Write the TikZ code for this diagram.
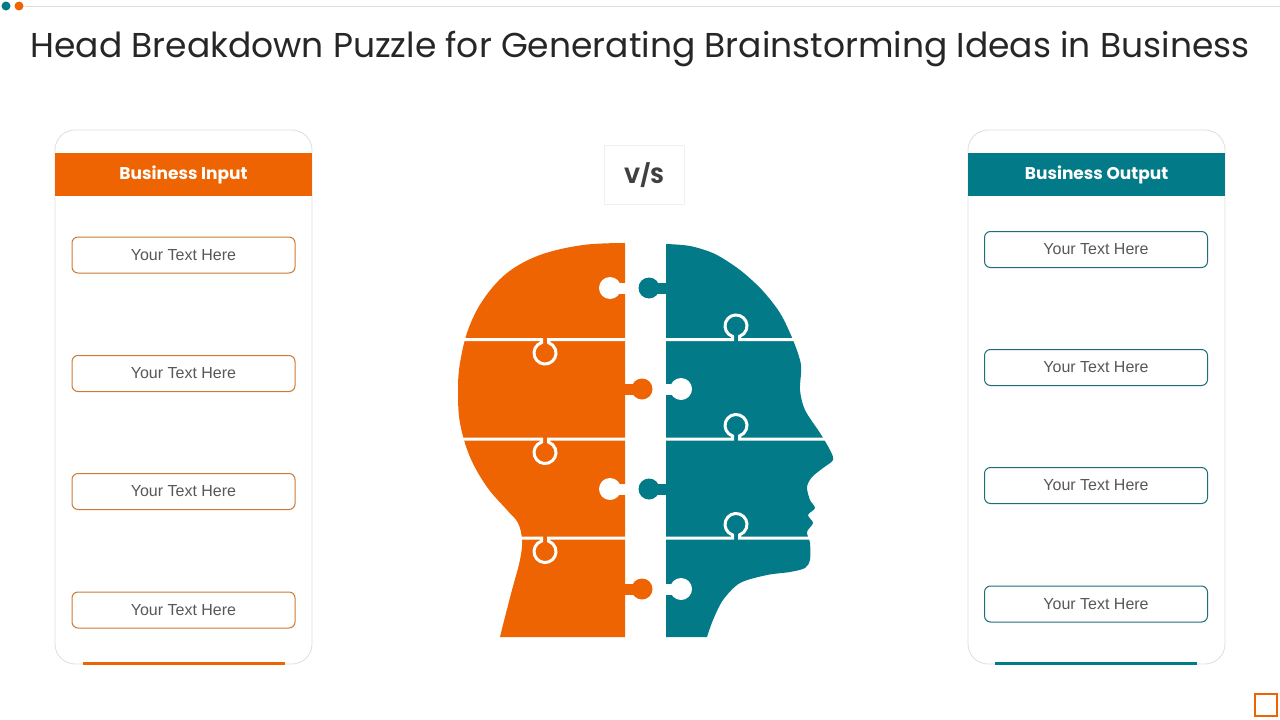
\documentclass[tikz,border=0pt]{standalone}
\usepackage{fontspec}
\setmainfont{Liberation Sans}
\newfontfamily\gothic{Poppins}
\definecolor{brandorange}{RGB}{238,99,2}
\definecolor{brandteal}{RGB}{2,122,135}
\definecolor{boxorange}{RGB}{204,122,52}
\definecolor{boxteal}{RGB}{30,110,120}
\definecolor{textgray}{RGB}{88,88,88}
\definecolor{panelgray}{RGB}{222,222,222}
\begin{document}
\begin{tikzpicture}[x=1pt,y=-1pt,
    textbox/.style={draw,line width=1pt,rounded corners=6pt,fill=white,
      minimum width=223pt,minimum height=36pt,inner sep=0pt,
      text=textgray,font=\fontsize{16}{18}\selectfont},
    header/.style={minimum width=257pt,minimum height=43pt,inner sep=0pt,
      text=white,font=\gothic\bfseries\fontsize{17}{20}\selectfont},
    panel/.style={draw=panelgray,line width=0.8pt,rounded corners=20pt,fill=white},
    gap/.style={draw=white,line width=3pt}]
  \useasboundingbox (0,0) rectangle (1280,720);
  % top rule and corner dots
  \draw[panelgray,line width=1pt] (25,6) -- (1280,6);
  \fill[brandteal] (6,6) circle[radius=4.5];
  \fill[brandorange] (19,6) circle[radius=4.5];
  \node[anchor=base,font=\gothic\fontsize{34.5}{40}\selectfont,text=black!85] (title) at (640,57)
    {Head Breakdown Puzzle for Generating Brainstorming Ideas in Business};
  % left panel
  \draw[panel] (55,130) rectangle (312,664);
  \node[header,fill=brandorange] (inhead) at (183.5,174.5) {Business Input};
  \foreach \i/\y in {1/255,2/373.5,3/491.5,4/610}
    \node[textbox,draw=boxorange] (in\i) at (183.5,\y) {Your Text Here};
  \fill[brandorange] (83,662) rectangle (285,665);
  % right panel
  \draw[panel] (968,130) rectangle (1225,664);
  \node[header,fill=brandteal] (outhead) at (1096.5,174.5) {Business Output};
  \foreach \i/\y in {1/249.5,2/367.5,3/485.5,4/604}
    \node[textbox,draw=boxteal] (out\i) at (1096,\y) {Your Text Here};
  \fill[brandteal] (995,662) rectangle (1197,665);
  % v/s label
  \node[draw=black!6,line width=1pt,minimum width=80pt,minimum height=59pt,
    font=\gothic\bfseries\fontsize{22}{26}\selectfont,text=black!75] (vs) at (644,175) {V/S};
  % head, orange half
  \fill[brandorange] (625,637) -- plot[smooth,tension=0.6] coordinates {(625,243) (583,245)
    (540,255) (507,273) (483,300) (468,330) (460,363) (458,390) (460,423) (470,457)
    (487,487) (507,510) (518,523) (522,540) (520,560) (512,590) (505,617) (500,637)} -- cycle;
  % head, teal half
  \fill[brandteal] (666,637) -- plot[smooth,tension=0.5] coordinates {(666,244) (690,246)
    (715,254) (740,270) (762,290) (780,313) (793,340) (801,365) (800,390) (805,410) (820,433)
    (830,450) (833,460) (823,468) (812,477) (807,487) (810,500) (815,508) (808,515)
    (813,523) (807,532) (810,543) (810,560) (805,568) (790,572) (767,575) (740,583)
    (723,600) (713,620) (707,637)} -- cycle;
  % tabs on the middle edges
  \foreach \y in {288,489} {
    \fill[white] (610,\y) circle[radius=11];
    \fill[white] (614,\y-5.5) rectangle (626,\y+5.5);
    \fill[brandteal] (649,\y) circle[radius=10.5];
    \fill[brandteal] (653,\y-5.5) rectangle (667,\y+5.5);
  }
  \foreach \y in {389,589} {
    \fill[brandorange] (642,\y) circle[radius=10.5];
    \fill[brandorange] (624,\y-5.5) rectangle (638,\y+5.5);
    \fill[white] (681,\y) circle[radius=11];
    \fill[white] (665,\y-5.5) rectangle (677,\y+5.5);
  }
  % cuts between the pieces
  \foreach \y in {339.5,439,538} {
    \draw[gap] (450,\y) -- (541.5,\y) -- (541.5,\y+3.1)
      arc[start angle=251.4,end angle=-71.4,radius=11] -- (548.5,\y) -- (626,\y);
    \draw[gap] (665,\y) -- (732.5,\y) -- (732.5,\y-3.1)
      arc[start angle=108.6,end angle=431.4,radius=11] -- (739.5,\y) -- (850,\y);
  }
  % corner mark
  \draw[brandorange,line width=1.2pt] (1255,694) rectangle (1277,716);
\end{tikzpicture}
\end{document}
